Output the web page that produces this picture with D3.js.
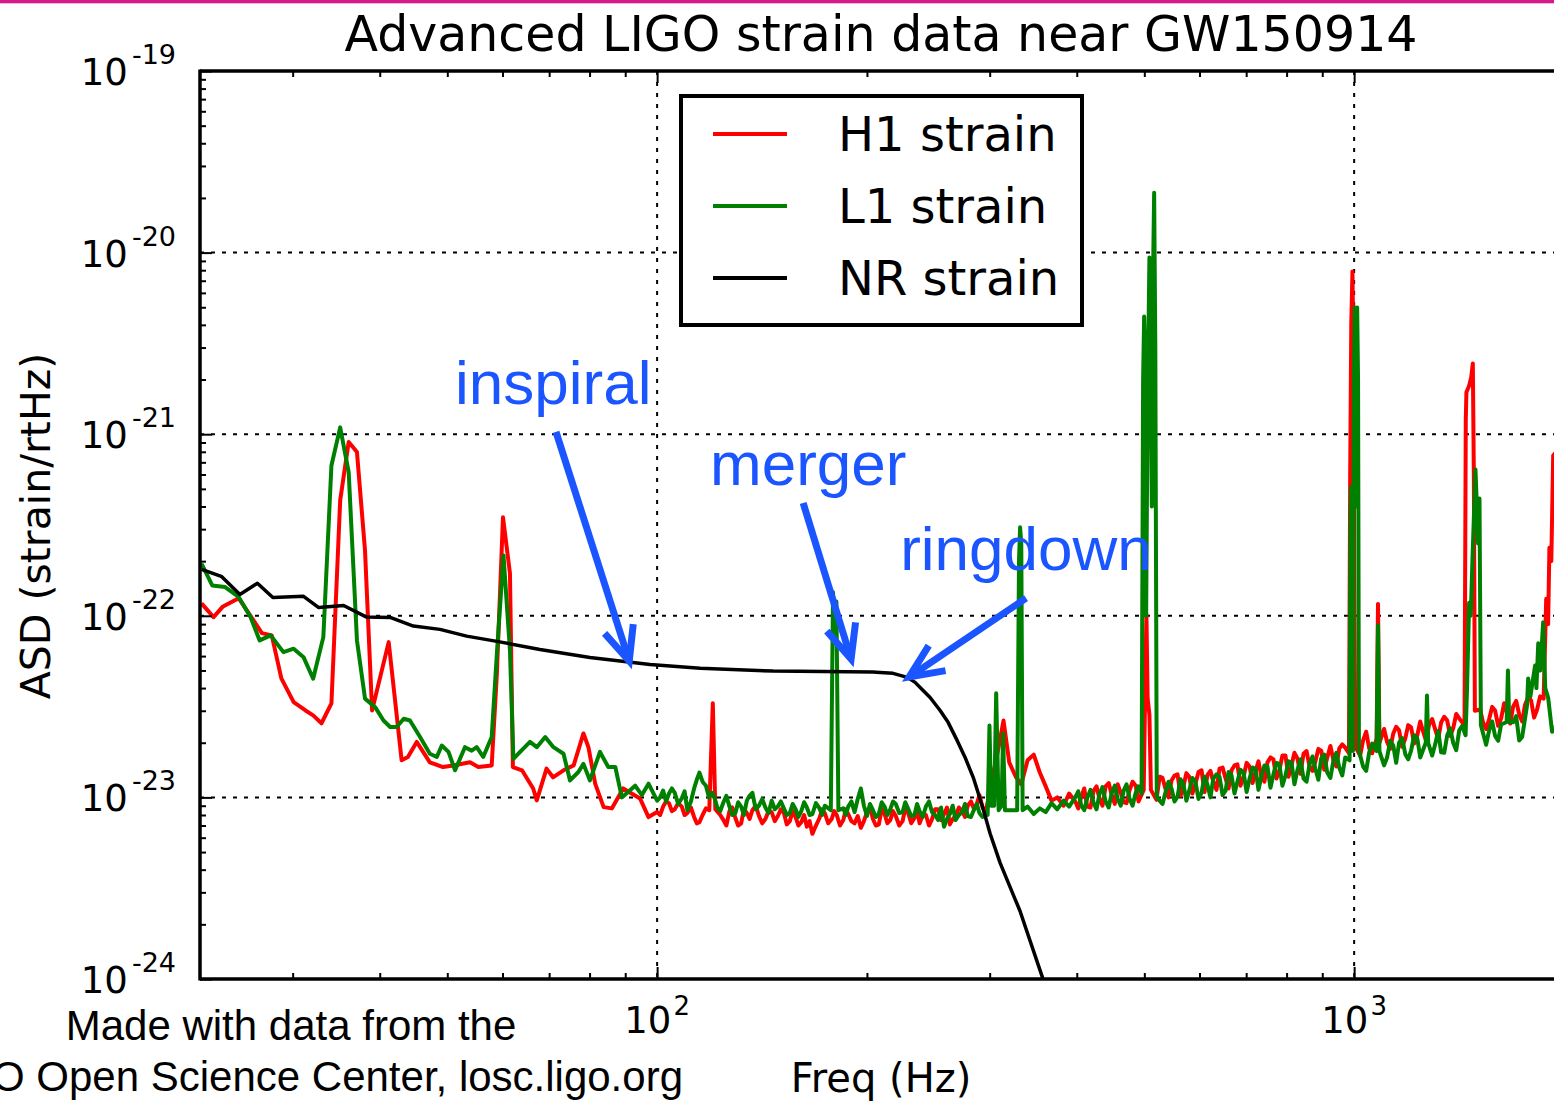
<!DOCTYPE html>
<html><head><meta charset="utf-8">
<script src="https://cdn.jsdelivr.net/npm/d3@7"></script>
<style>body{margin:0;background:#fff} svg{display:block}</style>
</head><body>
<script>
// ASD values are given in units of 1e-23 strain/rtHz
const UNIT = 1e-23;

// ---- H1 (red), low-frequency part
const h1LowFreq = [22.2,23.1,23.8,25.1,26.1,27.1,28.0,28.9,30.1,31.3,32.1,33.0,34.1,35.1,36.1,37.1,38.1,39.0,41.2,43.0,43.9,45.2,47.2,49.3,51.0,53.9,55.4,57.9,58.9,60.1,61.5,62.1,64.0,66.4,67.2,69.4,70.9,73.4,75.9,78.4,79.7,81.5,83.8,86.1,89.4,94.5,97.2];
const h1LowAsd  = [11.7,9.83,11.2,12.5,10.0,8.03,7.80,4.52,3.35,3.01,2.83,2.56,3.29,43.2,90.5,79.7,22.9,3.01,7.16,1.60,1.67,2.02,1.56,1.47,1.50,1.56,1.47,1.50,4.82,34.9,17.1,1.47,1.41,1.12,0.963,1.44,1.29,1.41,1.50,2.25,1.89,1.19,0.884,0.870,1.12,0.987,0.779];

// ---- L1 (green), low-frequency part
const l1LowFreq = [22.2,23.0,24.0,25.1,26.1,26.9,27.9,29.1,30.1,31.1,32.1,33.2,34.1,35.1,36.1,37.1,38.1,39.4,40.5,41.4,42.3,43.3,44.2,45.7,47.2,48.3,49.1,50.2,51.3,53.0,54.2,55.1,56.3,57.9,58.9,60.2,61.5,62.2,63.6,65.7,67.2,69.1,71.0,73.4,75.0,77.1,78.4,80.1,82.8,85.1,87.1,89.0,93.0,95.1,97.2];
const l1LowAsd  = [19.4,14.7,14.4,12.7,9.84,7.32,7.80,6.31,6.59,5.92,4.50,7.63,67.3,109,61.8,7.32,3.50,3.14,2.65,2.44,2.44,2.71,2.65,2.15,1.74,1.67,1.93,1.78,1.41,1.89,1.81,1.89,1.67,2.15,6.21,21.5,6.45,1.63,1.78,2.02,1.89,2.15,1.89,1.74,1.24,1.38,1.53,1.24,1.78,1.47,1.47,1.00,1.16,1.03,1.19];

// ---- shared frequency grid for the broadband noise (100 Hz and up)
const noiseFreq = [
 100,102,104,106,108.5,110.5,113,115,117.5,120,
 122,124.5,127,129.5,132,134.5,137,140,143,146,
 149,152,155,158,161,164,167,171,174,178,
 181,185,188,192,196,200,204,208,212,216,
 220,225,229,234,238,243,248,253,258,263,
 268,274,279,285,290,296,302,308,314,320,
 327,333,340,347,354,361,368,375,383,390,
 398,406,414,423,431,440,449,458,467,476,
 486,495,505,515,526,536,547,558,569,580,
 592,604,616,628,641,654,667,680,694,708,
 722,736,751,766,781,797,813,829,846,863,
 880,897,915,934,952,971,990,1010,1030,1051,
 1072,1093,1115,1138,1160,1184,1207,1232,1256,1281,
 1307,1333,1360,1387,1415,1443,1472,1501,1531,1562,
 1593,1625,1658,1691,1725,1759,1794,1830,1867,1904,
 1942,1980];
const h1Noise = [
 0.83,0.89,0.93,0.86,0.89,0.82,0.78,0.73,0.87,0.83,
 0.88,0.75,0.84,0.77,0.72,0.82,0.85,0.79,0.76,0.83,
 0.79,0.82,0.74,0.78,0.73,0.69,0.63,0.77,0.82,0.76,
 0.80,0.75,0.81,0.72,0.68,0.83,0.76,0.71,0.81,0.75,
 0.79,0.74,0.83,0.77,0.72,0.80,0.76,0.86,0.81,0.71,
 0.79,0.84,0.90,0.86,1.03,0.83,1.24,1.77,2.65,1.56,
 1.30,1.18,1.60,1.72,1.37,1.15,0.96,1.00,0.90,1.05,
 0.95,1.01,0.89,1.09,0.99,1.15,1.03,1.18,0.94,1.09,
 1.16,1.05,1.09,1.03,1.30,1.12,1.24,1.34,1.15,1.30,
 1.19,1.41,1.33,1.22,1.44,1.27,1.41,1.52,1.30,1.48,
 1.39,1.30,1.56,1.62,1.41,1.70,1.50,1.64,1.74,1.48,
 1.58,1.81,1.66,1.60,1.86,1.88,1.72,1.93,2.06,1.86,
 2.14,1.93,2.02,2.25,2.34,2.11,2.43,2.20,2.30,2.52,
 2.37,2.59,2.65,2.40,2.72,2.49,2.79,2.94,2.59,2.70,
 3.01,2.72,2.90,3.17,2.86,3.25,3.42,3.05,3.50,3.17,
 3.30,3.42];
const l1Noise = [
 0.96,1.09,1.05,1.06,0.99,0.85,1.12,1.37,1.16,1.06,
 0.88,0.94,0.89,0.82,0.89,0.96,1.06,0.90,0.88,0.96,
 0.89,0.87,0.82,0.86,0.84,0.88,0.81,0.87,0.90,0.84,
 0.83,0.87,0.89,0.83,1.12,0.79,0.85,0.81,0.89,0.86,
 0.92,0.83,0.87,0.80,0.84,0.89,0.83,0.75,0.69,0.81,
 0.75,0.83,0.79,0.86,0.82,0.77,0.83,0.87,0.79,0.85,
 0.77,0.83,0.89,0.81,0.87,0.83,0.93,0.86,0.96,0.89,
 1.00,0.90,0.99,0.93,1.04,0.95,1.06,0.98,1.09,0.99,
 1.06,1.03,1.04,1.00,0.96,1.06,1.12,1.01,1.18,1.09,
 1.22,1.06,1.17,1.27,1.30,1.09,1.32,1.22,1.37,1.27,
 1.44,1.30,1.48,1.34,1.52,1.32,1.56,1.41,1.27,1.52,
 1.43,1.64,1.37,1.60,1.46,1.66,1.56,1.70,1.48,1.77,
 1.60,1.86,1.66,1.93,2.00,1.73,1.81,2.11,1.88,2.18,
 1.96,1.77,2.20,2.00,2.34,2.11,2.40,2.06,1.91,2.34,
 2.18,2.52,2.25,2.59,2.06,2.65,2.40,2.79,2.52,2.94,
 2.34,2.72];

// ---- in-between noise samples (denser fine structure)
const midFreq = [
 101,103,105,107.2,109.5,111.8,114,116.2,118.7,121,
 123.2,125.7,128.2,130.7,133.2,135.7,138.5,141.5,144.5,147.5,
 150.5,153.5,156.5,159.5,162.5,165.5,169,172.5,176,179.5,
 183,186.5,190,194,198,202,206,210,214,218,
 222.5,227,231.5,236,240.5,245.5,250.5,255.5,260.5,265.5,
 271,276.5,282,287.5,293,299,
 402,410,418.5,427,435.5,444.5,453.5,462.5,471.5,481,
 490.5,500,510,520.5,531,541.5,552.5,563.5,574.5,586,
 598,610,622,634.5,647.5,660.5,673.5,687,701,715,
 729,743.5,758.5,773.5,789,805,821,837.5,854.5,871.5,
 888.5,906,924.5,943,961.5,980.5,1000,1020,1040.5,1061.5,
 1082.5,1104,1126.5,1149,1172,1195.5,1219.5,1244,1268.5,1294,
 1320,1346.5,1373.5,1401,1429,1457.5,1486.5,1516,1546.5,1577.5,
 1609,1641.5,1674.5,1708,1742,1776.5,1812,1848.5,1885.5,1923,
 1961];
const h1Mid = [
 0.80,0.95,0.84,0.93,0.80,0.88,0.72,0.80,0.85,0.86,
 0.80,0.70,0.88,0.70,0.86,0.76,0.90,0.72,0.84,0.74,
 0.86,0.71,0.84,0.70,0.80,0.74,0.70,0.86,0.72,0.84,
 0.70,0.86,0.74,0.79,0.74,0.88,0.70,0.86,0.72,0.84,
 0.70,0.87,0.72,0.85,0.80,0.70,0.86,0.75,0.88,0.76,
 0.88,0.78,0.95,0.92,0.88,1.00,
 0.87,1.12,0.88,1.15,0.90,1.20,0.92,1.06,0.93,1.22,
 0.95,1.12,0.98,0.97,1.28,1.00,1.32,1.02,1.36,1.05,
 1.38,1.07,1.40,1.10,1.46,1.12,1.50,1.16,1.55,1.20,
 1.58,1.22,1.66,1.27,1.70,1.30,1.76,1.35,1.80,1.40,
 1.85,1.42,1.92,1.48,1.96,1.55,1.70,1.70,2.30,1.75,
 2.10,2.38,1.85,2.45,1.90,2.50,1.98,2.62,2.05,2.70,
 2.10,2.78,2.18,2.88,2.25,2.66,2.70,3.05,2.38,3.15,
 2.48,3.30,2.55,3.40,2.62,3.55,2.75,3.60,3.35,3.40,
 2.85];
const l1Mid = [
 1.00,0.95,1.12,0.92,1.08,0.95,1.25,1.22,1.00,0.98,
 0.84,1.02,0.80,0.94,0.80,1.02,0.86,0.98,0.82,0.86,
 0.95,0.80,0.92,0.78,0.94,0.80,0.93,0.80,0.95,0.86,
 0.95,0.80,0.95,0.98,0.90,0.92,0.78,0.94,0.80,0.95,
 0.82,0.94,0.79,0.92,0.78,0.95,0.80,0.88,0.76,0.90,
 0.80,0.92,0.78,0.92,0.78,0.80,
 1.08,0.85,1.10,0.86,1.14,0.88,1.16,0.90,1.18,0.90,
 1.15,1.00,1.00,1.18,0.92,1.22,0.95,1.26,0.96,1.28,
 0.98,1.30,1.00,1.34,1.03,1.38,1.05,1.42,1.07,1.46,
 1.10,1.50,1.13,1.55,1.16,1.58,1.18,1.62,1.22,1.68,
 1.25,1.72,1.28,1.76,1.32,1.60,1.60,1.90,1.40,1.98,
 1.80,1.50,2.05,1.55,2.12,1.62,2.20,1.66,2.25,1.70,
 2.32,1.76,2.40,1.82,2.48,1.90,1.90,2.55,1.95,2.62,
 2.05,2.72,2.10,2.80,2.15,2.90,2.22,2.98,2.90,2.30,
 2.95];

// ---- narrow spectral lines
const h1LineFreq = [118.8,120.2,121.2, 499,501.5,503.5,505.5,508.5,511, 983,987,990.5,994.5,997.5,1000.5,1004, 1077,1082,1087, 1440,1446,1449,1462,1472,1480,1485,1490, 1870,1886,1898,1906,1918,1930,1950];
const h1LineAsd  = [0.85,3.30,0.86, 1.10,4.0,10.2,3.5,2.86,1.10, 1.75,60,400,788,250,15,1.9, 2.1,11.6,2.0, 2.5,120,170,185,205,245,60,3.0, 3.5,12.4,9.0,23.7,20,76.4,80];
const l1LineFreq = [177.5,178.8,179.8,180.8,182, 298,299.8,301.5,304.5,306.5,309,312,313.6,315.5, 328.5,330.5,331.7,333,334.5,
  495.5,498,499.7,501.5,503,505.5,508.5,510.5,512.5,514.5,516.5,518.5,521,
  985,988,990,992,996,999,1002,1004.5,1006,1008,1010,1013,1016, 1077,1082,1087, 1267,1272,1277,
  1445,1452,1462,1470,1478,1493,1500,1506,1513,1520, 1655,1662,1669,
  1770,1777,1790,1818,1826,1837,1850,1867,1880,1898];
const l1LineAsd  = [0.85,13.5,8.0,12.0,0.85, 0.80,2.49,0.90,0.90,3.74,0.85,0.90,2.25,0.85, 0.85,20,30.7,25,0.85,
  1.05,200,445,250,10,150,941,300,40,700,2134,300,1.0,
  1.6,30,51,8,1.8,200,499,400,40,350,499,200,1.8, 1.8,8.86,1.8, 2.0,3.64,2.0,
  2.2,4.0,11.8,10,20,64,40,25,44.3,2.5, 2.6,5.0,2.6,
  3.2,4.52,3.6,5.33,4.0,7.05,5.0,9.2,4.0,3.55];

// ---- numerical-relativity template (black)
const nrFreq = [22.2,23.7,25.2,26.7,28.1,31.1,32.7,35.5,38.3,41.4,44.7,48.8,53.3,58.9,67.9,80.1,97.7,115.3,146.7,204,208.9,218,228.5,234.5,240.8,246.4,254.7,261.5,269.4,276.6,284.1,292.7,300.4,310.5,331.7,357.9];
const nrAsd  = [18.0,16.5,13.1,15.1,12.6,12.8,11.1,11.4,9.84,9.80,8.78,8.42,7.73,7.23,6.53,5.90,5.40,5.15,4.96,4.90,4.87,4.82,4.58,4.30,3.88,3.55,3.01,2.59,2.06,1.66,1.29,0.90,0.633,0.436,0.236,0.0995];

// ---- axes ticks
const xMajor = [100, 1000];
const xMinor = [30,40,50,60,70,80,90,200,300,400,500,600,700,800,900];
const yMajor = [1e-24,1e-23,1e-22,1e-21,1e-20,1e-19];
const xLabelExp = ["2","3"];
const yLabelExp = ["-24","-23","-22","-21","-20","-19"];

// ---- legend & annotations
const legendItems = [{name:"H1 strain", color:"#ff0000"},{name:"L1 strain", color:"#008000"},{name:"NR strain", color:"#000000"}];
const annotations = [
  {text:"inspiral", tf:51.3, tv:1.47e-21, af:71.6, av:1.03e-21, bf:91.2, bv:5.64e-23},
  {text:"merger",   tf:119.1, tv:5.25e-22, af:162, av:4.18e-22, bf:189.8, bv:5.78e-23},
  {text:"ringdown", tf:223.2, tv:1.79e-22, af:338.3, av:1.25e-22, bf:229.9, bv:4.60e-23}
];

// ================= drawing =================
const W = 1554, H = 1101;
const P = {left:200, right:1562, top:71, bottom:979};
const svg = d3.select("body").append("svg").attr("width", W).attr("height", H)
  .style("font-family","'DejaVu Sans', sans-serif");
svg.append("rect").attr("width",W).attr("height",H).attr("fill","#fff");
svg.append("rect").attr("x",0).attr("y",0).attr("width",W).attr("height",3).attr("fill","#d8188f");
svg.append("rect").attr("x",0).attr("y",3).attr("width",W).attr("height",1).attr("fill","#f3b6da");

const x = d3.scaleLog().domain([22.09, 1987]).range([P.left, P.right]);
const y = d3.scaleLog().domain([1e-24, 1e-19]).range([P.bottom, P.top]);

svg.append("defs").append("clipPath").attr("id","clip")
  .append("rect").attr("x",P.left).attr("y",P.top).attr("width",P.right-P.left).attr("height",P.bottom-P.top);

// grid
const grid = svg.append("g").attr("stroke","#000").attr("stroke-width",2).attr("stroke-dasharray","4,7");
grid.selectAll("line.gy").data(yMajor.slice(1,-1)).join("line")
  .attr("x1",P.left).attr("x2",P.right).attr("y1",d=>y(d)).attr("y2",d=>y(d));
grid.selectAll("line.gx").data(xMajor).join("line")
  .attr("y1",P.top).attr("y2",P.bottom).attr("x1",d=>x(d)).attr("x2",d=>x(d));

// series
function build(lowF, lowV, noiseV, midV, lineF, lineV){
  const pts = [];
  const near = f => lineF.some(g=>Math.abs(Math.log10(f/g))<0.004);
  lowF.forEach((f,i)=>pts.push({f, v:lowV[i]}));
  noiseFreq.forEach((f,i)=>{ if (!near(f) && noiseV[i]!=null) pts.push({f, v:noiseV[i]}); });
  midFreq.forEach((f,i)=>{ if (!near(f) && midV[i]!=null) pts.push({f, v:midV[i]}); });
  lineF.forEach((f,i)=>pts.push({f, v:lineV[i]}));
  pts.sort((a,b)=>a.f-b.f);
  return pts;
}
const h1 = build(h1LowFreq, h1LowAsd, h1Noise, h1Mid, h1LineFreq, h1LineAsd);
const l1 = build(l1LowFreq, l1LowAsd, l1Noise, l1Mid, l1LineFreq, l1LineAsd);
const nr = nrFreq.map((f,i)=>({f, v:nrAsd[i]}));
const line = d3.line().x(d=>x(d.f)).y(d=>y(d.v*UNIT));
const data = svg.append("g").attr("clip-path","url(#clip)").attr("fill","none")
  .attr("stroke-width",4).attr("stroke-linejoin","round");
data.append("path").datum(h1).attr("d",line).attr("stroke","#ff0000");
data.append("path").datum(l1).attr("d",line).attr("stroke","#008000");
data.append("path").datum(nr).attr("d",line).attr("stroke","#000000").attr("stroke-width",3.5);

// ticks (inward)
function ticks(axis, sel){ sel.call(axis); sel.select(".domain").remove();
  sel.selectAll("line").attr("stroke","#000").attr("stroke-width",2); sel.selectAll("text").remove(); }
const yMinor = [];
yMajor.slice(0,-1).forEach(d=>{ for(let k=2;k<10;k++) yMinor.push(d*k); });
ticks(d3.axisBottom(x).tickValues(xMajor).tickSize(-12).tickFormat(""), svg.append("g").attr("transform",`translate(0,${P.bottom})`));
ticks(d3.axisBottom(x).tickValues(xMinor).tickSize(-6).tickFormat(""), svg.append("g").attr("transform",`translate(0,${P.bottom})`));
ticks(d3.axisTop(x).tickValues(xMajor).tickSize(-12).tickFormat(""), svg.append("g").attr("transform",`translate(0,${P.top})`));
ticks(d3.axisTop(x).tickValues(xMinor).tickSize(-6).tickFormat(""), svg.append("g").attr("transform",`translate(0,${P.top})`));
ticks(d3.axisLeft(y).tickValues(yMajor).tickSize(-12).tickFormat(""), svg.append("g").attr("transform",`translate(${P.left},0)`));
ticks(d3.axisLeft(y).tickValues(yMinor).tickSize(-6).tickFormat(""), svg.append("g").attr("transform",`translate(${P.left},0)`));

// spines
const sp = svg.append("g").attr("stroke","#000").attr("stroke-width",3.5);
sp.append("line").attr("x1",P.left).attr("x2",P.left).attr("y1",P.top-1.5).attr("y2",P.bottom+1.5);
sp.append("line").attr("x1",P.left).attr("x2",P.right).attr("y1",P.top).attr("y2",P.top);
sp.append("line").attr("x1",P.left).attr("x2",P.right).attr("y1",P.bottom).attr("y2",P.bottom);

// tick labels
yMajor.forEach((d,i)=>{
  const t = svg.append("text").attr("x",176).attr("y",y(d)+14).attr("text-anchor","end").attr("font-size",37);
  t.append("tspan").text("10");
  t.append("tspan").attr("dx",4).attr("dy",-21).attr("font-size",27).text(yLabelExp[i]);
});
xMajor.forEach((d,i)=>{
  const t = svg.append("text").attr("x",x(d)).attr("y",1033).attr("text-anchor","middle").attr("font-size",37);
  t.append("tspan").text("10");
  t.append("tspan").attr("dx",2).attr("dy",-18).attr("font-size",26).text(xLabelExp[i]);
});

// labels & title
svg.append("text").attr("x",881).attr("y",51).attr("text-anchor","middle").attr("font-size",49)
  .text("Advanced LIGO strain data near GW150914");
svg.append("text").attr("transform","translate(50,526) rotate(-90)").attr("text-anchor","middle").attr("font-size",41)
  .text("ASD (strain/rtHz)");
svg.append("text").attr("x",881).attr("y",1092).attr("text-anchor","middle").attr("font-size",40).text("Freq (Hz)");
svg.append("text").attr("x",291).attr("y",1040).attr("text-anchor","middle").attr("font-size",42)
  .style("font-family","'Liberation Sans', Arial, sans-serif").text("Made with data from the");
svg.append("text").attr("x",683).attr("y",1091).attr("text-anchor","end").attr("font-size",42)
  .style("font-family","'Liberation Sans', Arial, sans-serif").text("LIGO Open Science Center, losc.ligo.org");

// legend
const lg = svg.append("g");
lg.append("rect").attr("x",681).attr("y",96).attr("width",401).attr("height",229)
  .attr("fill","#fff").attr("stroke","#000").attr("stroke-width",4);
legendItems.forEach((it,i)=>{
  const yy = 134 + i*72;
  lg.append("line").attr("x1",713).attr("x2",787).attr("y1",yy).attr("y2",yy).attr("stroke",it.color).attr("stroke-width",4);
  lg.append("text").attr("x",838).attr("y",yy+17).attr("font-size",48).text(it.name);
});

// annotations
const blue = "#1a55ff";
const an = svg.append("g");
annotations.forEach(a=>{
  an.append("text").attr("x",x(a.tf)).attr("y",y(a.tv)).attr("fill",blue).attr("font-size",62)
    .style("font-family","'Liberation Sans', Arial, sans-serif").text(a.text);
  const x0=x(a.af), y0=y(a.av), x1=x(a.bf), y1=y(a.bv);
  an.append("line").attr("x1",x0).attr("y1",y0).attr("x2",x1).attr("y2",y1)
    .attr("stroke",blue).attr("stroke-width",7);
  const ang = Math.atan2(y0-y1, x0-x1), L = 37, h = 24*Math.PI/180;
  const pts = [[x1+L*Math.cos(ang+h), y1+L*Math.sin(ang+h)],[x1,y1],[x1+L*Math.cos(ang-h), y1+L*Math.sin(ang-h)]];
  an.append("path").attr("d",d3.line()(pts)).attr("fill","none").attr("stroke",blue).attr("stroke-width",7)
    .attr("stroke-linejoin","miter");
});
</script>
</body></html>
